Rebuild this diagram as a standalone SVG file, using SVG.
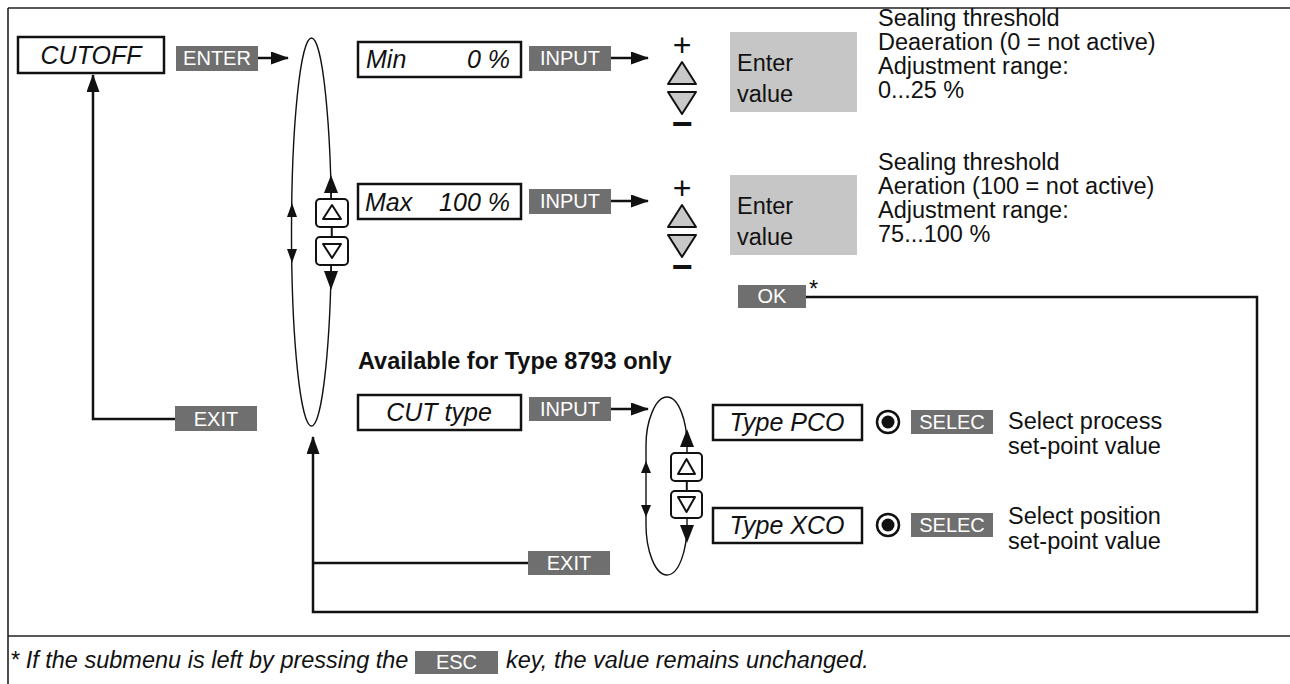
<svg xmlns="http://www.w3.org/2000/svg" width="1290" height="684" viewBox="0 0 1290 684">
<defs>
<style>
.ln{stroke:#111;stroke-width:2.5;fill:none}
.thin{stroke:#111;stroke-width:1.4;fill:none}
.frame{stroke:#222;stroke-width:1.6;fill:none}
.box{fill:#fff;stroke:#111;stroke-width:2.5}
.btn{fill:#6f6f6f}
.btnt{fill:#fff;font-family:"Liberation Sans",Arial,sans-serif;font-size:20px;text-anchor:middle}
.lbl{font-family:"Liberation Sans",Arial,sans-serif;font-size:25px;font-style:italic;fill:#111}
.txt{font-family:"Liberation Sans",Arial,sans-serif;font-size:23.5px;fill:#111}
.sym{font-family:"Liberation Sans",Arial,sans-serif;fill:#111;text-anchor:middle}
.tri{fill:#c8c8c8;stroke:#111;stroke-width:2;stroke-linejoin:round}
.key{fill:#fff;stroke:#111;stroke-width:2}
.keytri{fill:#fff;stroke:#111;stroke-width:2;stroke-linejoin:round}
.ah{fill:#111}
.gray{fill:#c6c6c6}
</style>
<marker id="arr" viewBox="0 0 18 13" refX="17" refY="6.5" markerWidth="18" markerHeight="13" markerUnits="userSpaceOnUse" orient="auto">
<path d="M0,0 L18,6.5 L0,13 z" fill="#111"/>
</marker>
</defs>
<rect width="1290" height="684" fill="#fff"/>
<g id="frame">
<path class="frame" d="M8,8 H1290 M8,8 V684 M8,636 H1290"/>
</g>
<g id="connectors">
<path class="ln" d="M258,58 H288" marker-end="url(#arr)"/>
<path class="ln" d="M611,58 H648" marker-end="url(#arr)"/>
<path class="ln" d="M611,201 H648" marker-end="url(#arr)"/>
<path class="ln" d="M611,409 H648" marker-end="url(#arr)"/>
<path class="ln" d="M175,419 H93 V75" marker-end="url(#arr)"/>
<path class="ln" d="M806,297 H1257 V612 H313 V437" marker-end="url(#arr)"/>
<path class="ln" d="M528,563 H313"/>
</g>
<g id="cutoff">
<rect class="box" x="18" y="37" width="146" height="36"/>
<text class="lbl" x="91" y="64" text-anchor="middle">CUTOFF</text>
</g>
<g id="btn-enter">
<rect class="btn" x="176" y="46" width="82" height="25"/>
<text class="btnt" x="217" y="65">ENTER</text>
</g>
<g id="btn-exit1">
<rect class="btn" x="175" y="406" width="82" height="25"/>
<text class="btnt" x="216" y="426">EXIT</text>
</g>
<g id="loop-main">
<ellipse class="thin" cx="311.5" cy="232" rx="20" ry="194"/>
<polygon class="ah" points="331,175 324,193 338,193"/>
<polygon class="ah" points="331,290 324,271 338,271"/>
<polygon class="ah" points="292,203 287,217 297,217"/>
<polygon class="ah" points="292,263 287,249 297,249"/>
<rect class="key" x="316" y="199" width="32" height="28" rx="4"/>
<polygon class="keytri" points="332,205 323,219 341,219"/>
<line class="thin" x1="332" y1="227" x2="332" y2="237"/>
<rect class="key" x="316" y="237" width="32" height="28" rx="4"/>
<polygon class="keytri" points="323,244 341,244 332,258"/>
<line class="thin" x1="331" y1="193" x2="331" y2="199"/>
<line class="thin" x1="331" y1="265" x2="331" y2="271"/>
</g>
<g id="min">
<rect class="box" x="358" y="42" width="163" height="35"/>
<text class="lbl" x="366" y="68">Min</text>
<text class="lbl" x="510" y="68" text-anchor="end">0 %</text>
</g>
<g id="btn-input1">
<rect class="btn" x="529" y="46" width="82" height="25"/>
<text class="btnt" x="570" y="65">INPUT</text>
</g>
<g id="updown1">
<text class="sym" x="682" y="56" font-size="32">+</text>
<polygon class="tri" points="682,62 668,84 696,84"/>
<polygon class="tri" points="668,92 696,92 682,114"/>
<text class="sym" x="682" y="136" font-size="36" font-weight="bold">−</text>
</g>
<g id="enter1">
<rect class="gray" x="730" y="32" width="127" height="80"/>
<text class="txt" x="737" y="71" font-size="25">Enter</text>
<text class="txt" x="737" y="102" font-size="25">value</text>
</g>
<g id="desc1">
<text class="txt" x="878" y="26">Sealing threshold</text>
<text class="txt" x="878" y="50">Deaeration (0 = not active)</text>
<text class="txt" x="878" y="74">Adjustment range:</text>
<text class="txt" x="878" y="98">0...25 %</text>
</g>
<g id="max">
<rect class="box" x="358" y="184" width="163" height="35"/>
<text class="lbl" x="365" y="211">Max</text>
<text class="lbl" x="510" y="211" text-anchor="end">100 %</text>
</g>
<g id="btn-input2">
<rect class="btn" x="529" y="189" width="82" height="25"/>
<text class="btnt" x="570" y="208">INPUT</text>
</g>
<g id="updown2">
<text class="sym" x="682" y="199" font-size="32">+</text>
<polygon class="tri" points="682,205 668,227 696,227"/>
<polygon class="tri" points="668,235 696,235 682,257"/>
<text class="sym" x="682" y="279" font-size="36" font-weight="bold">−</text>
</g>
<g id="enter2">
<rect class="gray" x="730" y="175" width="127" height="80"/>
<text class="txt" x="737" y="214" font-size="25">Enter</text>
<text class="txt" x="737" y="245" font-size="25">value</text>
</g>
<g id="desc2">
<text class="txt" x="878" y="170">Sealing threshold</text>
<text class="txt" x="878" y="194">Aeration (100 = not active)</text>
<text class="txt" x="878" y="218">Adjustment range:</text>
<text class="txt" x="878" y="242">75...100 %</text>
</g>
<g id="btn-ok">
<rect class="btn" x="738" y="285" width="68" height="23"/>
<text class="btnt" x="772" y="303">OK</text>
<text class="txt" x="809" y="297" font-size="20">*</text>
</g>
<g id="note-type">
<text class="txt" x="358" y="369" font-size="22.5" font-weight="bold">Available for Type 8793 only</text>
</g>
<g id="cuttype">
<rect class="box" x="358" y="395" width="163" height="35"/>
<text class="lbl" x="439" y="421" text-anchor="middle">CUT type</text>
</g>
<g id="btn-input3">
<rect class="btn" x="529" y="397" width="82" height="24"/>
<text class="btnt" x="570" y="416">INPUT</text>
</g>
<g id="loop-type">
<path class="thin" d="M667,397 C679,397 687,422 687,445 L687,525 C687,550 679,575 667,575 C655,575 646,550 646,525 L646,445 C646,422 655,397 667,397 Z"/>
<polygon class="ah" points="687,429 680,447 694,447"/>
<polygon class="ah" points="687,543 680,525 694,525"/>
<polygon class="ah" points="646,461 641,473 651,473"/>
<polygon class="ah" points="646,517 641,505 651,505"/>
<rect class="key" x="671" y="453" width="31" height="28" rx="4"/>
<polygon class="keytri" points="686.5,459 678,474 695,474"/>
<line class="thin" x1="686.5" y1="481" x2="686.5" y2="491"/>
<rect class="key" x="671" y="491" width="31" height="27" rx="4"/>
<polygon class="keytri" points="678,497 695,497 686.5,512"/>
</g>
<g id="btn-exit2">
<rect class="btn" x="528" y="551" width="82" height="24"/>
<text class="btnt" x="569" y="570">EXIT</text>
</g>
<g id="pco">
<rect class="box" x="713" y="405" width="149" height="35"/>
<text class="lbl" x="787" y="431" text-anchor="middle">Type PCO</text>
<circle cx="888" cy="422" r="11" fill="#fff" stroke="#111" stroke-width="2.5"/>
<circle cx="888" cy="422" r="6.5" fill="#111"/>
<rect class="btn" x="911" y="410" width="82" height="24"/>
<text class="btnt" x="952" y="429" font-size="19">SELEC</text>
<text class="txt" x="1008" y="429">Select process</text>
<text class="txt" x="1008" y="454">set-point value</text>
</g>
<g id="xco">
<rect class="box" x="713" y="508" width="149" height="35"/>
<text class="lbl" x="787" y="534" text-anchor="middle">Type XCO</text>
<circle cx="888" cy="525" r="11" fill="#fff" stroke="#111" stroke-width="2.5"/>
<circle cx="888" cy="525" r="6.5" fill="#111"/>
<rect class="btn" x="911" y="513" width="82" height="24"/>
<text class="btnt" x="952" y="532" font-size="19">SELEC</text>
<text class="txt" x="1008" y="524">Select position</text>
<text class="txt" x="1008" y="549">set-point value</text>
</g>
<g id="footnote">
<text class="txt" x="10" y="668" font-size="20" font-style="italic">* If the submenu is left by pressing the</text>
<rect class="btn" x="415" y="651" width="83" height="23"/>
<text class="btnt" x="456.5" y="669">ESC</text>
<text class="txt" x="506" y="668" font-size="20" font-style="italic">key, the value remains unchanged.</text>
</g>
</svg>
